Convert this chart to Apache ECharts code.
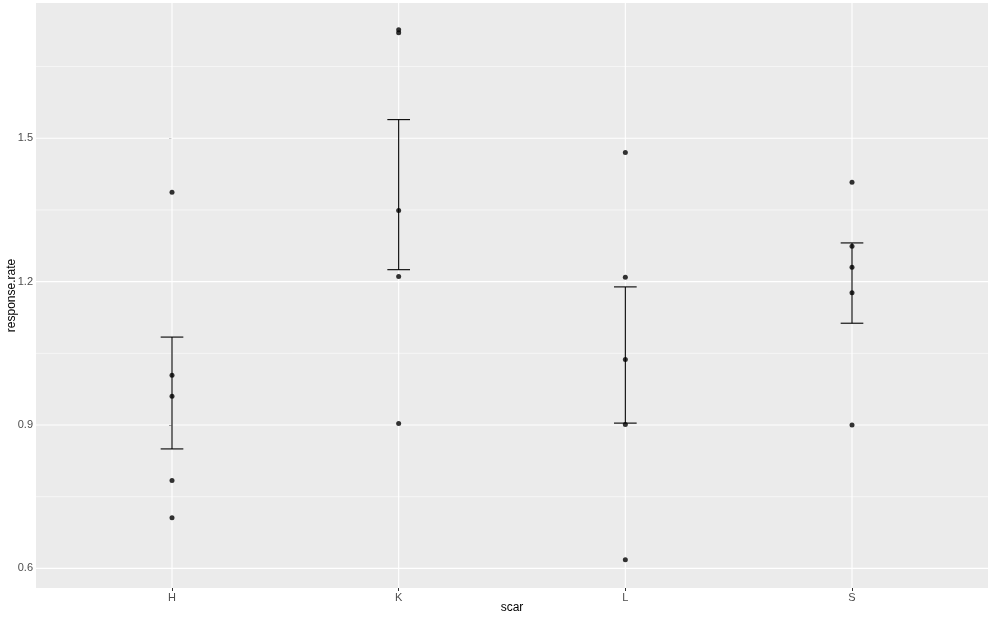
<!DOCTYPE html>
<html><head><meta charset="utf-8">
<script src="https://cdn.jsdelivr.net/npm/echarts@6/dist/echarts.min.js"></script>
<style>html,body{margin:0;padding:0;background:#fff}#c{width:994px;height:620px}</style>
</head><body><div id="c"></div>
<script>
const categories = ['H', 'K', 'L', 'S'];
const valuesH = [1.387, 1.004, 0.960, 0.784, 0.706];
const valuesK = [1.727, 1.721, 1.349, 1.211, 0.903];
const valuesL = [1.470, 1.209, 1.037, 0.901, 0.618];
const valuesS = [1.408, 1.274, 1.230, 1.177, 0.900];
const errLower = [0.850, 1.225, 0.904, 1.113];
const errUpper = [1.084, 1.539, 1.189, 1.281];
const yTicks = [0.6, 0.9, 1.2, 1.5];
const yMinor = [0.75, 1.05, 1.35, 1.65];
const yMin = 0.559, yMax = 1.783;

const groups = [valuesH, valuesK, valuesL, valuesS];
const points = [];
groups.forEach((arr, i) => arr.forEach(v => points.push([i, v])));
const errData = categories.map((c, i) => [i, errLower[i], errUpper[i]]);

const gridData = [];
yTicks.forEach(v => gridData.push(['h', v, 1.1]));
yMinor.forEach(v => gridData.push(['h', v, 0.55]));
categories.forEach((c, i) => gridData.push(['v', i, 1.1]));

const chart = echarts.init(document.getElementById('c'), null, {renderer: 'canvas'});
chart.setOption({
  animation: false,
  backgroundColor: '#ffffff',
  grid: {left: 36, right: 6, top: 3, bottom: 32, show: true, backgroundColor: '#EBEBEB', borderWidth: 0, containLabel: false, outerBoundsMode: 'none'},
  xAxis: {
    type: 'value', min: -0.6, max: 3.6,
    name: 'scar', nameLocation: 'middle', nameGap: 14, nameMoveOverlap: false,
    nameTextStyle: {color: '#000', fontSize: 12, fontFamily: 'Liberation Sans'},
    axisLine: {show: false},
    splitLine: {show: false},
    axisTick: {show: true, length: 3, customValues: [0, 1, 2, 3], lineStyle: {color: '#333', width: 1}},
    axisLabel: {customValues: [0, 1, 2, 3], formatter: v => categories[Math.round(v)], color: '#4D4D4D', fontSize: 11, fontFamily: 'Liberation Sans', margin: 4}
  },
  yAxis: {
    type: 'value', min: yMin, max: yMax,
    name: 'response.rate', nameLocation: 'middle', nameGap: 18, nameRotate: 90, nameMoveOverlap: false,
    nameTextStyle: {color: '#000', fontSize: 12, fontFamily: 'Liberation Sans'},
    axisLine: {show: false},
    splitLine: {show: false},
    axisTick: {show: true, length: 3, customValues: yTicks, lineStyle: {color: '#333', width: 1}},
    axisLabel: {customValues: yTicks, formatter: v => v.toFixed(1), color: '#4D4D4D', fontSize: 11, fontFamily: 'Liberation Sans', margin: 3}
  },
  series: [
    {
      type: 'custom', z: 1, silent: true, clip: true,
      data: gridData,
      renderItem: (params, api) => {
        const cs = params.coordSys;
        const kind = gridData[params.dataIndex][0];
        const v = api.value(1), w = api.value(2);
        let shape;
        if (kind === 'h') {
          const y = api.coord([0, v])[1];
          shape = {x1: cs.x, y1: y, x2: cs.x + cs.width, y2: y};
        } else {
          const x = api.coord([v, yMin])[0];
          shape = {x1: x, y1: cs.y, x2: x, y2: cs.y + cs.height};
        }
        return {type: 'line', shape, style: {stroke: '#FFFFFF', lineWidth: w}};
      },
      encode: {x: 1, y: 1}
    },
    {
      type: 'custom', z: 3, silent: true,
      data: errData,
      renderItem: (params, api) => {
        const x = api.value(0);
        const lo = api.coord([x, api.value(1)]);
        const hi = api.coord([x, api.value(2)]);
        const capL = api.coord([x - 0.05, 0])[0];
        const capR = api.coord([x + 0.05, 0])[0];
        const st = {stroke: '#000', lineWidth: 1.1};
        return {type: 'group', children: [
          {type: 'line', shape: {x1: lo[0], y1: lo[1], x2: hi[0], y2: hi[1]}, style: st},
          {type: 'line', shape: {x1: capL, y1: lo[1], x2: capR, y2: lo[1]}, style: st},
          {type: 'line', shape: {x1: capL, y1: hi[1], x2: capR, y2: hi[1]}, style: st}
        ]};
      },
      encode: {x: 0, y: [1, 2]}
    },
    {
      type: 'scatter', z: 4, silent: true,
      symbol: 'circle', symbolSize: 5,
      itemStyle: {color: '#000'},
      data: points
    }
  ]
});
</script>
</body></html>
